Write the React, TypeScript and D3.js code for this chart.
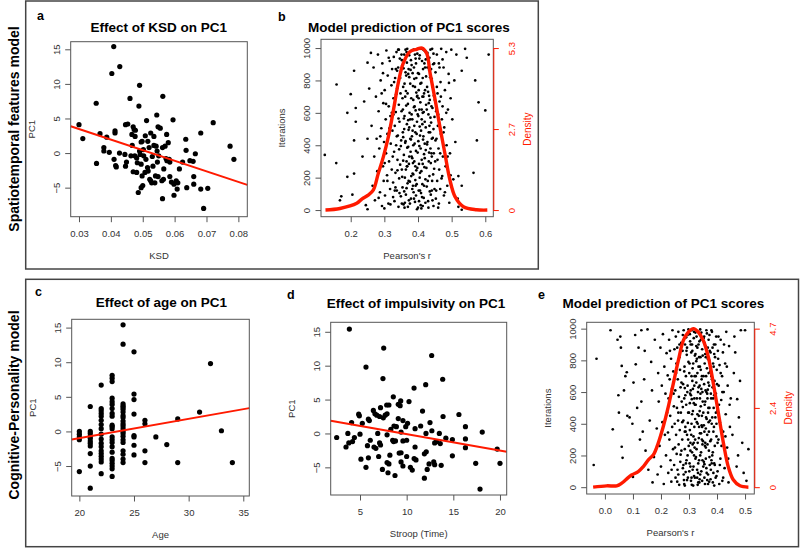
import React, { useRef, useEffect } from "react";
import * as d3 from "d3";

const FONT = "'Liberation Sans', Arial, Helvetica, sans-serif";
const RED = "#ff1a00";

// a: KSD vs PC1
const ksdPoints = [
  [0.03, 4.1], [0.0312, 2.1], [0.0354, 7.2], [0.0355, -1.5], [0.0366, 2.8], [0.0378, 0.8], [0.0378, 0.3],
  [0.0387, 2.3], [0.0395, 0.1], [0.0403, 11.5], [0.0409, 15.4], [0.041, -0.9], [0.0413, 2.9], [0.0413, 3.2],
  [0.0415, -1.8], [0.0417, -2.0], [0.0428, 12.5], [0.0427, 0.0], [0.0444, -0.2], [0.0446, 4.1], [0.0453, 4.2],
  [0.0446, -1.9], [0.0449, -1.3], [0.046, 7.9], [0.0463, -0.4], [0.0466, 2.7], [0.0467, 1.1], [0.047, 3.8],
  [0.0473, 3.4], [0.0476, 2.4], [0.047, -2.7], [0.0475, -0.4], [0.0477, 3.3], [0.0481, -2.8], [0.0481, -0.7],
  [0.0483, -1.4], [0.0486, -5.7], [0.0488, 6.8], [0.049, 9.8], [0.049, 0.3], [0.0492, -0.2], [0.0495, -5.0],
  [0.0495, 1.6], [0.0495, -1.6], [0.0498, 1.7], [0.0498, -3.3], [0.05, -4.7], [0.0502, 0.5], [0.0503, -0.4],
  [0.0507, -2.8], [0.0508, 2.5], [0.051, -0.9], [0.0512, 4.7], [0.0515, -2.1], [0.0516, 1.7], [0.0517, -2.6],
  [0.052, 0.8], [0.0522, -3.8], [0.0525, 2.9], [0.0525, -4.0], [0.0528, -4.3], [0.053, -0.5], [0.0532, -1.9],
  [0.0535, 2.4], [0.0535, 1.1], [0.0538, -4.3], [0.0544, 5.5], [0.054, -3.3], [0.0542, 1.0], [0.0545, 0.3],
  [0.0546, -1.3], [0.0548, 3.8], [0.0548, -3.4], [0.055, -0.4], [0.0555, 3.6], [0.0563, 8.2], [0.0562, -6.6],
  [0.056, -4.0], [0.0562, 0.8], [0.0565, -3.8], [0.0566, -2.3], [0.057, 1.0], [0.0573, -0.8], [0.0575, 2.7],
  [0.0576, -1.1], [0.058, 1.5], [0.0583, -0.9], [0.0585, -3.4], [0.0585, -1.3], [0.059, -4.2], [0.0598, -6.1],
  [0.0595, 4.8], [0.0598, -4.5], [0.0605, -4.0], [0.0608, -5.2], [0.061, -4.3], [0.0615, -2.3], [0.0625, -1.3],
  [0.0635, 2.0], [0.0636, 0.4], [0.0638, -5.0], [0.0648, -1.1], [0.0658, -1.2], [0.066, -3.4], [0.066, -4.5],
  [0.0665, -0.1], [0.0682, 2.9], [0.0682, -5.2], [0.0704, -5.1], [0.0691, -8.0], [0.0721, 4.4], [0.0774, 1.0],
  [0.0786, -0.9],
];
const ksdFit = [8.07, -153]; // intercept, slope

// b: Pearson's r per iteration (spatiotemporal model)
const bIterations = [
  [0.123, 340], [0.158, 775], [0.157, 290], [0.168, 60], [0.172, 85], [0.19, 600], [0.19, 205], [0.2, 715],
  [0.205, 95], [0.21, 860], [0.21, 430], [0.215, 630], [0.215, 545], [0.21, 225], [0.235, 330], [0.24, 670],
  [0.245, 30], [0.25, 5], [0.25, 910], [0.25, 440], [0.255, 750], [0.26, 970], [0.54, 995], [0.545, 940],
  [0.53, 2], [0.52, 20], [0.53, 860], [0.565, 230], [0.575, 430], [0.58, 665], [0.57, 800], [0.6, 615],
  [0.61, 960], [0.52, 210], [0.53, 150],
  [0.262, 520], [0.265, 150], [0.268, 880], [0.27, 330], [0.272, 60], [0.275, 700], [0.277, 440], [0.279, 240],
  [0.281, 960], [0.283, 610], [0.285, 380], [0.287, 110], [0.289, 800], [0.291, 505], [0.293, 25], [0.294, 905],
  [0.296, 270], [0.297, 660], [0.299, 420], [0.298, 180],
  [0.301, 740], [0.302, 90], [0.304, 560], [0.305, 350], [0.306, 985], [0.308, 215], [0.309, 470], [0.31, 830],
  [0.312, 40], [0.313, 640], [0.314, 300], [0.316, 920], [0.317, 130], [0.318, 580], [0.319, 410], [0.321, 770],
  [0.322, 250], [0.323, 870], [0.324, 490], [0.3, 10],
  [0.326, 170], [0.327, 690], [0.328, 945], [0.329, 360], [0.33, 55], [0.331, 520], [0.332, 815], [0.333, 230],
  [0.334, 605], [0.335, 400], [0.336, 975], [0.337, 120], [0.338, 750], [0.339, 310], [0.34, 460], [0.341, 880],
  [0.342, 20], [0.343, 650], [0.344, 195], [0.345, 545], [0.346, 935], [0.347, 280], [0.348, 720], [0.349, 85],
  [0.35, 430], [0.327, 590], [0.338, 860], [0.344, 375], [0.333, 140], [0.341, 990],
  [0.351, 610], [0.352, 250], [0.353, 890], [0.354, 140], [0.355, 480], [0.356, 760], [0.357, 35], [0.358, 340],
  [0.359, 960], [0.36, 580], [0.361, 200], [0.362, 700], [0.363, 425], [0.364, 95], [0.365, 830], [0.366, 300],
  [0.367, 530], [0.368, 995], [0.369, 165], [0.37, 655], [0.371, 390], [0.372, 870], [0.373, 60], [0.374, 510],
  [0.352, 925], [0.356, 450], [0.36, 15], [0.364, 735], [0.368, 270], [0.372, 180], [0.355, 620], [0.363, 850],
  [0.359, 115], [0.366, 975], [0.371, 555], [0.374, 330],
  [0.376, 40], [0.377, 780], [0.378, 360], [0.379, 925], [0.38, 210], [0.381, 590], [0.382, 455], [0.383, 130],
  [0.384, 845], [0.385, 290], [0.386, 680], [0.387, 990], [0.388, 70], [0.389, 520], [0.39, 410], [0.391, 760],
  [0.392, 185], [0.393, 615], [0.394, 905], [0.395, 245], [0.396, 470], [0.397, 5], [0.398, 705], [0.399, 355],
  [0.377, 560], [0.381, 895], [0.385, 150], [0.388, 635], [0.391, 960], [0.394, 90], [0.397, 545], [0.383, 320],
  [0.389, 810], [0.395, 725], [0.379, 435], [0.392, 270], [0.398, 965], [0.386, 220],
  [0.401, 580], [0.402, 120], [0.403, 840], [0.404, 395], [0.405, 955], [0.406, 230], [0.407, 665], [0.408, 30],
  [0.409, 490], [0.41, 785], [0.411, 310], [0.412, 920], [0.413, 160], [0.414, 600], [0.415, 435], [0.416, 990],
  [0.417, 75], [0.418, 720], [0.419, 265], [0.42, 545], [0.421, 880], [0.422, 190], [0.423, 370], [0.424, 650],
  [0.402, 740], [0.406, 460], [0.41, 10], [0.414, 815], [0.418, 345], [0.422, 980], [0.405, 200], [0.413, 530],
  [0.419, 905], [0.409, 105], [0.416, 700], [0.403, 285], [0.42, 410], [0.411, 620],
  [0.426, 145], [0.427, 760], [0.428, 420], [0.429, 935], [0.43, 55], [0.431, 590], [0.432, 300], [0.433, 865],
  [0.434, 210], [0.435, 680], [0.436, 480], [0.437, 990], [0.438, 95], [0.439, 540], [0.44, 350], [0.441, 810],
  [0.442, 180], [0.443, 630], [0.444, 445], [0.445, 900], [0.446, 25], [0.447, 705], [0.448, 255], [0.449, 575],
  [0.428, 880], [0.432, 660], [0.437, 380], [0.441, 120], [0.446, 965], [0.434, 520],
  [0.451, 300], [0.452, 850], [0.453, 70], [0.454, 610], [0.455, 440], [0.456, 960], [0.457, 180], [0.458, 720],
  [0.459, 520], [0.46, 15], [0.461, 380], [0.462, 905], [0.463, 250], [0.464, 670], [0.466, 130], [0.467, 790],
  [0.468, 470], [0.469, 995], [0.471, 560], [0.472, 210], [0.473, 640], [0.474, 330],
  [0.476, 880], [0.477, 90], [0.478, 510], [0.48, 740], [0.482, 270], [0.484, 975], [0.485, 400], [0.487, 150],
  [0.489, 620], [0.491, 840], [0.493, 45], [0.495, 350], [0.497, 690], [0.499, 990],
  [0.502, 560], [0.505, 190], [0.508, 800], [0.511, 420], [0.514, 960], [0.518, 70],
  [0.283, 75], [0.288, 455], [0.292, 720], [0.296, 845], [0.301, 290], [0.305, 655], [0.309, 180], [0.313, 940],
  [0.318, 35], [0.322, 600], [0.325, 330], [0.329, 790], [0.331, 120], [0.334, 870], [0.337, 455], [0.339, 245],
  [0.342, 565], [0.345, 105], [0.347, 815], [0.349, 395], [0.351, 960], [0.353, 205], [0.354, 690], [0.356, 305],
  [0.357, 875], [0.358, 565], [0.36, 780], [0.361, 45], [0.362, 415], [0.363, 990], [0.364, 250], [0.365, 645],
  [0.366, 135], [0.367, 910], [0.368, 385], [0.369, 720], [0.37, 20], [0.371, 840], [0.372, 495], [0.373, 285],
  [0.374, 955], [0.375, 600], [0.376, 175], [0.377, 440], [0.378, 865], [0.379, 70], [0.38, 690], [0.381, 330],
  [0.382, 985], [0.383, 560], [0.384, 225], [0.385, 765], [0.386, 400], [0.387, 110], [0.388, 880], [0.389, 300],
  [0.39, 640], [0.391, 50], [0.392, 480], [0.393, 935], [0.394, 365], [0.395, 815], [0.396, 160], [0.397, 700],
  [0.398, 260], [0.399, 590], [0.4, 15], [0.4, 845], [0.401, 425], [0.402, 690], [0.403, 55], [0.404, 935],
  [0.405, 515], [0.406, 120], [0.407, 780], [0.408, 380], [0.409, 995], [0.41, 240], [0.411, 560], [0.412, 80],
  [0.413, 700], [0.414, 285], [0.415, 870], [0.416, 455], [0.417, 605], [0.418, 150], [0.419, 985], [0.42, 320],
  [0.421, 740], [0.422, 45], [0.423, 510], [0.424, 825], [0.425, 260], [0.426, 620], [0.427, 405], [0.428, 970],
  [0.429, 180], [0.43, 730], [0.431, 15], [0.432, 480], [0.433, 355], [0.434, 940], [0.435, 115], [0.436, 820],
  [0.437, 570], [0.438, 290], [0.439, 870], [0.44, 640], [0.441, 440], [0.442, 995], [0.443, 60], [0.444, 760],
  [0.445, 220], [0.446, 500], [0.447, 350], [0.448, 905], [0.449, 130], [0.45, 680], [0.452, 430], [0.454, 120],
  [0.456, 760], [0.458, 310], [0.46, 590], [0.462, 40], [0.464, 880], [0.466, 350], [0.468, 700], [0.47, 195],
  [0.473, 930], [0.476, 480], [0.48, 110], [0.484, 600], [0.488, 330], [0.492, 785], [0.497, 215], [0.315, 505],
  [0.326, 80], [0.335, 715], [0.343, 990], [0.352, 40], [0.359, 500], [0.367, 270], [0.374, 820], [0.384, 490],
  [0.393, 150], [0.404, 620], [0.414, 25], [0.423, 930], [0.433, 705], [0.441, 330], [0.455, 620],
];
const bDensity = [
  [0.125, 0], [0.168, 0.05], [0.218, 0.22], [0.233, 0.36], [0.252, 0.49], [0.267, 0.65], [0.282, 1.2],
  [0.297, 1.74], [0.312, 2.4], [0.327, 3.27], [0.341, 4.14], [0.356, 4.8], [0.376, 5.18], [0.396, 5.26],
  [0.412, 5.3], [0.426, 5.12], [0.436, 4.47], [0.451, 3.6], [0.465, 2.73], [0.48, 1.85], [0.495, 0.98],
  [0.51, 0.44], [0.535, 0.11], [0.574, 0.01], [0.606, 0],
];
const bDensityTicks = [0, 2.65, 5.3];
const bDensityLabels = ["0", "2.7", "5.3"];

// c: age vs PC1
const agePoints = [
  [20, 0.0], [20, -0.4], [20, -0.8], [20, -1.2], [20, -5.8],
  [21, 3.6], [21, 0.0], [21, -0.3], [21, -0.7], [21, -1.0], [21, -1.4], [21, -1.7], [21, -2.1], [21, -3.2],
  [21, -5.0], [21, -8.2],
  [22, 6.7], [22, 3.3], [22, 3.0], [22, 2.6], [22, 2.2], [22, 1.6], [22, 1.0], [22, 0.4], [22, -0.4],
  [22, -1.1], [22, -1.7], [22, -2.2], [22, -2.8], [22, -3.2], [22, -3.6], [22, -4.0], [22, -4.4], [22, -6.1],
  [23, 8.1], [23, 7.7], [23, 7.2], [23, 4.8], [23, 4.3], [23, 3.9], [23, 3.3], [23, 2.6], [23, 2.2], [23, 0.9],
  [23, 0.7], [23, 0.4], [23, -0.8], [23, -1.2], [23, -1.6], [23, -2.2], [23, -3.0], [23, -3.9], [23, -4.2],
  [23, -4.6], [23, -5.0], [23, -5.4], [23, -6.5],
  [24, 15.4], [24, 12.6], [24, 4.0], [24, 3.7], [24, 3.5], [24, 3.2], [24, 2.8], [24, 2.3], [24, 2.0], [24, 1.5],
  [24, 1.1], [24, 0.8], [24, 0.4], [24, 0.0], [24, -0.3], [24, -0.7], [24, -1.2], [24, -1.6], [24, -2.8],
  [24, -3.3], [24, -4.0], [24, -4.5],
  [25, 11.5], [25, 5.4], [25, 4.6], [25, 2.5], [25, -0.6], [25, -0.8], [25, -2.0], [25, -3.4],
  [26, 1.6], [26, 1.1], [26, -2.8], [26, -4.5],
  [27, -0.8], [28, -1.9], [29, 1.8], [29, -4.5], [31, 2.8], [32, 9.8], [33, 0.1], [34, -4.5],
];
const ageFit = [-6.55, 0.279];

// d: Stroop time vs PC1
const stroopPoints = [
  [3.86, 15.4], [7.54, 12.6], [12.68, 11.5], [5.64, 9.8], [7.46, 8.1], [13.86, 8.0], [10.79, 6.7], [12.04, 7.2],
  [8.57, 5.4], [9.36, 4.8], [9.1, 4.3], [9.3, 4.1], [10.25, 4.7], [4.86, 2.85], [4.93, 2.6], [5.9, 2.1],
  [6.0, 1.9], [6.43, 3.4], [6.6, 2.9], [6.8, 2.7], [7.1, 2.5], [7.2, 3.8], [7.7, 2.7], [7.86, 4.2], [8.1, 4.2],
  [7.9, 2.9], [7.5, 2.3], [9.1, 2.2], [9.6, 1.9], [11.7, 3.3], [13.9, 2.5], [15.6, 2.8], [4.1, 1.6], [5.25, 1.5],
  [8.64, 1.1], [9.9, 1.0], [10.9, 0.7], [11.5, 1.1], [12.5, 1.6], [16.3, 1.0], [18.1, 0.2], [2.5, -0.6],
  [3.7, 0.0], [4.4, -0.6], [4.2, -1.2], [5.0, -0.1], [5.8, -1.8], [6.1, -1.0], [6.5, -2.0], [6.7, -2.2],
  [6.9, 0.0], [7.1, -1.4], [7.2, -1.7], [7.9, -0.2], [8.3, 0.6], [8.5, -1.0], [8.6, -1.2], [8.8, -1.1],
  [8.9, 1.0], [9.4, 0.2], [9.6, -1.1], [10.0, -1.0], [10.1, 1.5], [10.9, -2.0], [12.07, 0.0], [12.7, 0.4],
  [13.0, -1.4], [13.2, -1.2], [13.5, 0.0], [13.6, -1.5], [14.2, -0.7], [14.9, -0.9], [16.3, -0.8], [16.3, -2.1],
  [19.7, -2.3], [3.5, -2.0], [3.8, -1.4], [5.1, -3.8], [5.64, -5.0], [5.9, -3.6], [7.0, -3.4], [7.4, -5.3],
  [7.9, -4.3], [8.1, -4.5], [8.0, -5.8], [8.2, -3.2], [8.75, -6.2], [9.2, -2.9], [9.4, -2.85], [9.4, -4.2],
  [9.6, -4.8], [10.0, -3.4], [10.4, -5.0], [10.6, -5.4], [10.8, -3.7], [11.0, -3.9], [11.9, -6.6], [11.9, -3.0],
  [12.1, -2.7], [12.2, -5.3], [12.4, -4.5], [12.9, -4.2], [13.0, -4.6], [13.7, -4.7], [14.9, -3.3], [17.4, -4.4],
  [17.86, -8.2], [20.0, -4.4],
];
const stroopFit = [2.32, -0.2426];

// e: Pearson's r per iteration (cognitive-personality model)
const eIterations = [
  [-0.04, 140], [-0.03, 810], [0.02, 990], [0.028, 365], [0.045, 930], [0.055, 950], [0.057, 880], [0.06, 765],
  [0.06, 255], [0.063, 185], [0.048, 580], [0.05, 470], [0.068, 610], [0.073, 700], [0.078, 725], [0.08, 450],
  [0.088, 440], [0.1, 65], [0.102, 660], [0.098, 400], [0.11, 775], [0.108, 960], [0.12, 880], [0.125, 300],
  [0.13, 990], [0.14, 680], [0.152, 995], [0.145, 230], [0.115, 500], [0.135, 350], [0.13, 540], [0.142, 860],
  [0.155, 110], [0.16, 420], [0.165, 790], [0.17, 30], [0.168, 610], [0.175, 190], [0.178, 930], [0.185, 370],
  [0.19, 720], [0.188, 80],
  [0.5, 990], [0.512, 240], [0.505, 40], [0.482, 670], [0.49, 280], [0.472, 555], [0.478, 440], [0.465, 850],
  [0.47, 130], [0.46, 720], [0.455, 330], [0.485, 990], [0.495, 90], [0.462, 950], [0.475, 200],
  [0.192, 540], [0.195, 260], [0.198, 880], [0.2, 130], [0.203, 640], [0.205, 410], [0.207, 965], [0.21, 20],
  [0.212, 760], [0.214, 330], [0.216, 590], [0.218, 200], [0.22, 845], [0.222, 470], [0.224, 705],
  [0.226, 90], [0.227, 560], [0.229, 930], [0.23, 300], [0.231, 680], [0.233, 450], [0.234, 170], [0.236, 810],
  [0.237, 35], [0.239, 620], [0.24, 380], [0.241, 990], [0.243, 240], [0.244, 730], [0.246, 510], [0.247, 140],
  [0.248, 870], [0.249, 400],
  [0.251, 610], [0.252, 60], [0.253, 950], [0.254, 330], [0.255, 780], [0.256, 210], [0.257, 500], [0.258, 880],
  [0.259, 110], [0.26, 680], [0.261, 420], [0.262, 980], [0.263, 270], [0.264, 570], [0.265, 15], [0.266, 820],
  [0.267, 360], [0.268, 740], [0.269, 160], [0.27, 630], [0.271, 470], [0.272, 910], [0.273, 230], [0.274, 540],
  [0.262, 80],
  [0.276, 300], [0.277, 860], [0.278, 120], [0.279, 650], [0.28, 420], [0.281, 990], [0.282, 45], [0.283, 560],
  [0.284, 760], [0.285, 240], [0.286, 900], [0.287, 380], [0.288, 95], [0.289, 700], [0.29, 520], [0.291, 170],
  [0.292, 835], [0.293, 330], [0.294, 600], [0.295, 960], [0.296, 60], [0.297, 470], [0.298, 790], [0.299, 260],
  [0.28, 140], [0.285, 625], [0.29, 945], [0.295, 200], [0.278, 505], [0.288, 350], [0.293, 880], [0.283, 20],
  [0.301, 720], [0.302, 150], [0.303, 530], [0.304, 920], [0.305, 280], [0.306, 610], [0.307, 40], [0.308, 850],
  [0.309, 400], [0.31, 990], [0.311, 220], [0.312, 670], [0.313, 110], [0.314, 480], [0.315, 780], [0.316, 320],
  [0.317, 940], [0.318, 70], [0.319, 560], [0.32, 250], [0.321, 830], [0.322, 430], [0.323, 180], [0.324, 700],
  [0.303, 360], [0.307, 580], [0.311, 900], [0.315, 10], [0.319, 640], [0.323, 975], [0.305, 130], [0.313, 750],
  [0.317, 280], [0.321, 520], [0.309, 60],
  [0.326, 890], [0.327, 240], [0.328, 560], [0.329, 60], [0.33, 720], [0.331, 400], [0.332, 980], [0.333, 150],
  [0.334, 630], [0.335, 310], [0.336, 820], [0.337, 30], [0.338, 480], [0.339, 760], [0.34, 200], [0.341, 590],
  [0.342, 930], [0.343, 340], [0.344, 100], [0.345, 680], [0.346, 450], [0.347, 870], [0.348, 270], [0.349, 540],
  [0.328, 810], [0.332, 90], [0.336, 380], [0.34, 995], [0.344, 620], [0.348, 170], [0.33, 460], [0.338, 50],
  [0.342, 740], [0.346, 300], [0.334, 900],
  [0.351, 130], [0.352, 700], [0.353, 390], [0.354, 950], [0.355, 60], [0.356, 520], [0.357, 260], [0.358, 840],
  [0.359, 610], [0.36, 180], [0.361, 440], [0.362, 990], [0.363, 90], [0.364, 750], [0.365, 330], [0.366, 560],
  [0.367, 880], [0.368, 20], [0.369, 660], [0.37, 410], [0.371, 230], [0.372, 800], [0.373, 500], [0.374, 140],
  [0.355, 910], [0.36, 370], [0.365, 45], [0.37, 720], [0.358, 280], [0.368, 470], [0.362, 600], [0.373, 960],
  [0.376, 290], [0.377, 850], [0.378, 110], [0.379, 560], [0.38, 700], [0.381, 400], [0.382, 980], [0.383, 200],
  [0.384, 630], [0.385, 30], [0.386, 780], [0.387, 350], [0.388, 500], [0.389, 900], [0.39, 150], [0.391, 670],
  [0.392, 260], [0.393, 820], [0.394, 440], [0.395, 60], [0.396, 590], [0.397, 950], [0.398, 320], [0.399, 740],
  [0.38, 170], [0.39, 10],
  [0.401, 480], [0.402, 100], [0.403, 860], [0.405, 300], [0.406, 640], [0.408, 20], [0.409, 770], [0.41, 410],
  [0.412, 180], [0.413, 930], [0.415, 550], [0.416, 260], [0.418, 700], [0.419, 40], [0.421, 850], [0.422, 350],
  [0.424, 600],
  [0.427, 120], [0.429, 780], [0.431, 460], [0.433, 980], [0.436, 250], [0.438, 640], [0.441, 30], [0.443, 890],
  [0.446, 380], [0.449, 560],
  [0.225, 345], [0.232, 860], [0.238, 110], [0.245, 590], [0.25, 250], [0.254, 720], [0.258, 35], [0.262, 470],
  [0.266, 900], [0.27, 205], [0.273, 660], [0.276, 410], [0.278, 960], [0.281, 80], [0.283, 730], [0.285, 350],
  [0.287, 580], [0.289, 150], [0.291, 860], [0.293, 45], [0.295, 640], [0.297, 300], [0.298, 995], [0.3, 470],
  [0.301, 100], [0.302, 780], [0.304, 590], [0.305, 230], [0.306, 900], [0.308, 330], [0.309, 700], [0.31, 15],
  [0.311, 460], [0.312, 860], [0.313, 270], [0.314, 620], [0.316, 130], [0.317, 530], [0.318, 980], [0.319, 380],
  [0.32, 700], [0.321, 60], [0.322, 300], [0.323, 840], [0.324, 520], [0.325, 190], [0.326, 660], [0.327, 950],
  [0.328, 410], [0.329, 110], [0.33, 880], [0.331, 280], [0.332, 600], [0.333, 30], [0.334, 760], [0.335, 450],
  [0.336, 170], [0.337, 920], [0.338, 640], [0.339, 340], [0.34, 80], [0.341, 820], [0.342, 510], [0.343, 220],
  [0.344, 975], [0.345, 390], [0.346, 700], [0.347, 40], [0.348, 600], [0.349, 830], [0.35, 290], [0.351, 470],
  [0.352, 940], [0.353, 160], [0.354, 650], [0.355, 350], [0.356, 780], [0.357, 20], [0.358, 540], [0.359, 890],
  [0.36, 250], [0.361, 700], [0.362, 120], [0.363, 430], [0.364, 970], [0.365, 590], [0.366, 270], [0.367, 810],
  [0.368, 80], [0.369, 500], [0.37, 930], [0.371, 350], [0.372, 640], [0.373, 190], [0.374, 860], [0.375, 420],
  [0.376, 730], [0.377, 50], [0.378, 590], [0.379, 300], [0.38, 990], [0.381, 150], [0.382, 680], [0.383, 440],
  [0.384, 880], [0.385, 220], [0.386, 560], [0.387, 90], [0.388, 760], [0.389, 380], [0.39, 580], [0.392, 140],
  [0.394, 900], [0.396, 470], [0.398, 70], [0.4, 650], [0.402, 280], [0.404, 810], [0.407, 520], [0.41, 140],
  [0.413, 720], [0.416, 360], [0.419, 600], [0.422, 60], [0.425, 900], [0.43, 320], [0.435, 760], [0.44, 180],
  [0.445, 520], [0.285, 10], [0.296, 405], [0.303, 965], [0.31, 555], [0.318, 200], [0.326, 795], [0.331, 15],
  [0.339, 560], [0.347, 380], [0.355, 145], [0.36, 820], [0.367, 615], [0.372, 35], [0.39, 840], [0.398, 400],
  [0.405, 950],
];
const eDensity = [
  [-0.042, 0], [0.006, 0.04], [0.042, 0.04], [0.06, 0.12], [0.077, 0.24], [0.095, 0.36], [0.119, 0.46],
  [0.137, 0.61], [0.155, 0.81], [0.173, 0.96], [0.19, 1.3], [0.208, 1.79], [0.226, 2.38], [0.244, 3.07],
  [0.262, 3.76], [0.28, 4.35], [0.298, 4.6], [0.316, 4.7], [0.333, 4.6], [0.351, 4.35], [0.369, 3.86],
  [0.387, 3.07], [0.405, 2.19], [0.423, 1.3], [0.44, 0.61], [0.458, 0.22], [0.482, 0.04], [0.512, 0],
];
const eDensityTicks = [0, 2.35, 4.7];
const eDensityLabels = ["0", "2.4", "4.7"];

const iterTicks = [0, 200, 400, 600, 800, 1000];

const panels = [
  {
    letter: "a", letterPos: [37, 20], title: "Effect of KSD on PC1", titlePos: [158.7, 31.7],
    box: [70.7, 41.7, 247.3, 216.7], xDomain: [0.0274, 0.0828], yDomain: [-9.2, 16.1],
    xTicks: [0.03, 0.04, 0.05, 0.06, 0.07, 0.08], xFormat: d3.format(".2f"), yTicks: [-5, 0, 5, 10, 15],
    xLabel: "KSD", yLabel: "PC1", points: ksdPoints, r: 2.6, fit: ksdFit,
  },
  {
    letter: "b", letterPos: [278, 21], title: "Model prediction of PC1 scores", titlePos: [409, 31.7],
    box: [321, 39.3, 493.3, 216.7], xDomain: [0.1117, 0.6238], yDomain: [-41, 1054],
    xTicks: [0.2, 0.3, 0.4, 0.5, 0.6], xFormat: d3.format(".1f"), yTicks: iterTicks,
    xLabel: "Pearson's r", yLabel: "Iterations", points: bIterations, r: 1.35,
    density: bDensity, densTicks: bDensityTicks, densLabels: bDensityLabels,
  },
  {
    letter: "c", letterPos: [35, 296], title: "Effect of age on PC1", titlePos: [161.3, 307.3],
    box: [71.7, 319.3, 249.3, 496], xDomain: [19.3, 35.55], yDomain: [-9.33, 16.2],
    xTicks: [20, 25, 30, 35], xFormat: d3.format("d"), yTicks: [-5, 0, 5, 10, 15],
    xLabel: "Age", yLabel: "PC1", points: agePoints, r: 2.6, fit: ageFit,
  },
  {
    letter: "d", letterPos: [287, 299], title: "Effect of impulsivity on PC1", titlePos: [416, 307.7],
    box: [330.7, 322.3, 506.7, 495], xDomain: [1.86, 20.72], yDomain: [-9.08, 16.4],
    xTicks: [5, 10, 15, 20], xFormat: d3.format("d"), yTicks: [-5, 0, 5, 10, 15],
    xLabel: "Stroop (Time)", yLabel: "PC1", points: stroopPoints, r: 2.6, fit: stroopFit,
  },
  {
    letter: "e", letterPos: [538, 299], title: "Model prediction of PC1 scores", titlePos: [663.3, 307.7],
    box: [586.7, 322.3, 754.3, 494], xDomain: [-0.065, 0.533], yDomain: [-43, 1040],
    xTicks: [0, 0.1, 0.2, 0.3, 0.4, 0.5], xFormat: d3.format(".1f"), yTicks: iterTicks,
    xLabel: "Pearson's r", yLabel: "Iterations", points: eIterations, r: 1.35,
    density: eDensity, densTicks: eDensityTicks, densLabels: eDensityLabels,
  },
];

function drawPanel(svg, p) {
  const [x0, y0, x1, y1] = p.box;
  const x = d3.scaleLinear().domain(p.xDomain).range([x0, x1]);
  const y = d3.scaleLinear().domain(p.yDomain).range([y1, y0]);
  const g = svg.append("g").attr("font-family", FONT);

  g.append("g")
    .selectAll("circle")
    .data(p.points)
    .join("circle")
    .attr("cx", (d) => x(d[0]))
    .attr("cy", (d) => y(d[1]))
    .attr("r", p.r)
    .attr("fill", "#000");

  if (p.fit) {
    const [a, b] = p.fit;
    g.append("line")
      .attr("x1", x0)
      .attr("x2", x1)
      .attr("y1", y(a + b * p.xDomain[0]))
      .attr("y2", y(a + b * p.xDomain[1]))
      .attr("stroke", RED)
      .attr("stroke-width", 2);
  }

  g.append("rect")
    .attr("x", x0)
    .attr("y", y0)
    .attr("width", x1 - x0)
    .attr("height", y1 - y0)
    .attr("fill", "none")
    .attr("stroke", "#555");

  const xa = g
    .append("g")
    .attr("transform", `translate(0,${y1})`)
    .call(d3.axisBottom(x).tickValues(p.xTicks).tickFormat(p.xFormat).tickSize(5.5).tickPadding(7.8).tickSizeOuter(0));
  xa.select(".domain").remove();

  const ya = g
    .append("g")
    .attr("transform", `translate(${x0},0)`)
    .call(d3.axisLeft(y).tickValues(p.yTicks).tickFormat(d3.format("d")).tickSize(5.5).tickSizeOuter(0));
  ya.select(".domain").remove();
  ya.selectAll("text")
    .attr("x", 0)
    .attr("y", -14)
    .attr("dy", "0.35em")
    .attr("transform", "rotate(-90)")
    .attr("text-anchor", "middle");

  for (const ax of [xa, ya]) {
    ax.attr("font-family", FONT).attr("font-size", 9.5);
    ax.selectAll("line").attr("stroke", "#555");
    ax.selectAll("text").attr("fill", "#333");
  }

  if (p.density) {
    const yd = d3.scaleLinear().domain([0, p.densTicks[2]]).range([y(0), y(1000)]);
    const line = d3
      .line()
      .x((d) => x(d[0]))
      .y((d) => yd(d[1]))
      .curve(d3.curveCatmullRom);
    g.append("path")
      .datum(p.density)
      .attr("fill", "none")
      .attr("stroke", RED)
      .attr("stroke-width", 3.4)
      .attr("stroke-linejoin", "round")
      .attr("d", line);

    const ra = g
      .append("g")
      .attr("transform", `translate(${x1},0)`)
      .call(
        d3.axisRight(yd)
          .tickValues(p.densTicks)
          .tickFormat((d, i) => p.densLabels[i])
          .tickSize(5.5)
          .tickSizeOuter(0)
      );
    ra.attr("font-family", FONT).attr("font-size", 9.5);
    ra.select(".domain").attr("stroke", RED);
    ra.selectAll("line").attr("stroke", RED);
    ra.selectAll("text")
      .attr("x", 0)
      .attr("y", 18)
      .attr("dy", "0.35em")
      .attr("transform", "rotate(-90)")
      .attr("text-anchor", "middle")
      .attr("fill", RED);

    g.append("text")
      .attr("transform", `translate(${x1 + 34},${(y(0) + y(1000)) / 2}) rotate(-90)`)
      .attr("dy", "0.35em")
      .attr("text-anchor", "middle")
      .attr("font-size", 10)
      .attr("fill", RED)
      .text("Density");
  }

  g.append("text")
    .attr("x", (x0 + x1) / 2)
    .attr("y", y1 + 42)
    .attr("text-anchor", "middle")
    .attr("font-size", 9.5)
    .attr("fill", "#333")
    .text(p.xLabel);

  g.append("text")
    .attr("transform", `translate(${x0 - 39},${(y0 + y1) / 2}) rotate(-90)`)
    .attr("dy", "0.35em")
    .attr("text-anchor", "middle")
    .attr("font-size", 9.5)
    .attr("fill", "#333")
    .text(p.yLabel);

  g.append("text")
    .attr("x", p.titlePos[0])
    .attr("y", p.titlePos[1])
    .attr("text-anchor", "middle")
    .attr("font-size", 13.5)
    .attr("font-weight", "bold")
    .text(p.title);

  g.append("text")
    .attr("x", p.letterPos[0])
    .attr("y", p.letterPos[1])
    .attr("font-size", 12.5)
    .attr("font-weight", "bold")
    .text(p.letter);
}

export default function App() {
  const ref = useRef(null);

  useEffect(() => {
    const svg = d3.select(ref.current);
    svg.selectAll("*").remove();

    svg.append("rect").attr("width", 800).attr("height", 548).attr("fill", "#fff");

    // outer frames
    svg.append("rect")
      .attr("x", 25.7).attr("y", 1).attr("width", 538.3 - 25.7).attr("height", 269 - 1)
      .attr("fill", "none").attr("stroke", "#444").attr("stroke-width", 1.5);
    svg.append("rect")
      .attr("x", 25.7).attr("y", 279.3).attr("width", 798.5 - 25.7).attr("height", 546.7 - 279.3)
      .attr("fill", "none").attr("stroke", "#444").attr("stroke-width", 1.5);

    const sections = [
      ["Spatiotemporal features model", 129],
      ["Cognitive-Personality model", 405],
    ];
    for (const [label, cy] of sections) {
      svg.append("text")
        .attr("transform", `translate(14,${cy}) rotate(-90)`)
        .attr("dy", "0.35em")
        .attr("text-anchor", "middle")
        .attr("font-family", FONT)
        .attr("font-size", 14)
        .attr("font-weight", "bold")
        .text(label);
    }

    panels.forEach((p) => drawPanel(svg, p));
  }, []);

  return (
    <svg
      ref={ref}
      width={800}
      height={548}
      style={{ position: "absolute", left: 0, top: 0, display: "block" }}
    ></svg>
  );
}
